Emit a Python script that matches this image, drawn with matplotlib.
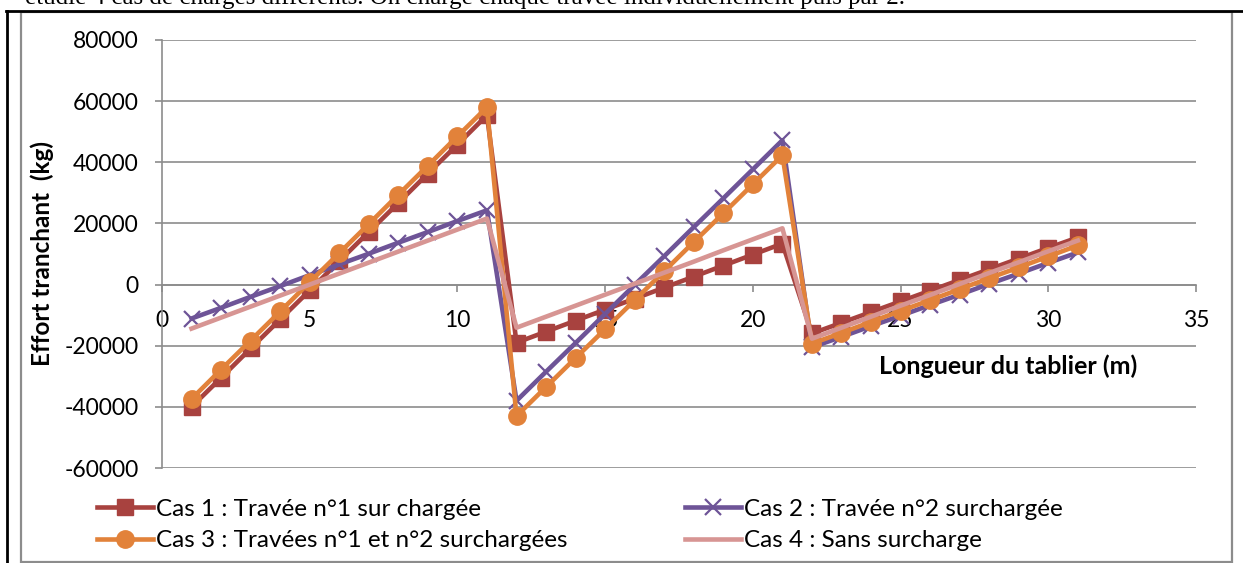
import matplotlib
matplotlib.use("Agg")
import matplotlib.pyplot as plt
from matplotlib.patches import Rectangle
from matplotlib.lines import Line2D

plt.rcParams['font.family'] = ['Lato', 'DejaVu Sans']
plt.rcParams['axes.unicode_minus'] = False

# Longueur du tablier (m)
positions = [1, 2, 3, 4, 5, 6, 7, 8, 9, 10, 11,
             12, 13, 14, 15, 16, 17, 18, 19, 20, 21,
             22, 23, 24, 25, 26, 27, 28, 29, 30, 31]

# Effort tranchant (kg) pour chaque cas de charge
cas1 = [-40000, -30500, -20900, -11400, -1900, 7700, 17200, 26700, 36300, 45800, 55400,
        -19000, -15400, -11800, -8200, -4600, -1000, 2600, 6200, 9800, 13400,
        -16000, -12500, -9000, -5500, -2000, 1500, 5000, 8500, 12000, 15400]
cas2 = [-11100, -7600, -4000, -500, 3100, 6600, 10100, 13700, 17200, 20800, 24300,
        -38000, -28500, -19100, -9600, -100, 9300, 18800, 28200, 37700, 47200,
        -20500, -17100, -13600, -10200, -6700, -3300, 200, 3600, 7100, 10500]
cas3 = [-37400, -27800, -18300, -8800, 800, 10300, 19800, 29400, 38900, 48500, 58000,
        -43000, -33500, -24000, -14600, -5100, 4400, 13900, 23300, 32800, 42300,
        -19300, -15800, -12200, -8600, -5100, -1500, 2100, 5600, 9200, 12800]
cas4 = [-14400, -10800, -7200, -3600, 0, 3600, 7200, 10800, 14400, 18000, 21600,
        -14100, -10500, -6900, -3300, 300, 3900, 7500, 11200, 14800, 18400,
        -17700, -14100, -10500, -6900, -3400, 200, 3800, 7300, 10900, 14400]

labels = ["Cas 1 : Travée n°1 sur chargée",
          "Cas 2 : Travée n°2 surchargée",
          "Cas 3 : Travées n°1 et n°2 surchargées",
          "Cas 4 : Sans surcharge"]
y_ticks = [-60000, -40000, -20000, 0, 20000, 40000, 60000, 80000]
x_ticks = [0, 5, 10, 15, 20, 25, 30, 35]

W, H = 1243, 563
fig = plt.figure(figsize=(W / 100, H / 100), dpi=100)
grey = '#8c8c8c'

# document text cut at the top + page borders
fig.text(25 / W, 1 - 4 / H, "étudié 4 cas de charges différents. On charge chaque travée "
         "individuellement puis par 2.", family='Liberation Serif', fontsize=18,
         va='baseline', ha='left')
fig.add_artist(Line2D([6 / W, 1], [1 - 11 / H, 1 - 11 / H], color='black', lw=2))
fig.add_artist(Line2D([7 / W, 7 / W], [0, 1 - 11 / H], color='black', lw=2))
fig.add_artist(Rectangle((21 / W, 1 / H), (1232 - 21) / W, 1 - 13 / H,
                         fill=False, edgecolor=grey, lw=1.6))

ax = fig.add_axes([162 / W, 1 - 468 / H, 1034 / W, 428 / H])

l1, = ax.plot(positions, cas1, color='#A8423F', lw=3.3, marker='s', ms=11.5, zorder=3)
l2, = ax.plot(positions, cas2, color='#6E5497', lw=3.3, marker='x', ms=11, mew=1.6, zorder=4)
l3, = ax.plot(positions, cas3, color='#E2823A', lw=3.3, marker='o', ms=12.5, zorder=5)
l4, = ax.plot(positions, cas4, color='#D79593', lw=3.3, zorder=6)

ax.set_xlim(0, 35)
ax.set_ylim(-60000, 80000)
ax.set_xticks(x_ticks)
ax.set_yticks(y_ticks)
ax.yaxis.grid(True, color=grey, lw=1.2)
ax.set_axisbelow(True)

for s in ['top', 'right']:
    ax.spines[s].set_visible(False)
ax.spines['bottom'].set_position(('data', 0))
ax.spines['left'].set_color(grey)
ax.spines['bottom'].set_color(grey)
ax.spines['left'].set_linewidth(1.2)
ax.spines['bottom'].set_linewidth(1.2)

ax.tick_params(axis='x', direction='out', length=5, width=1.2, color=grey, pad=13,
               labelsize=16.5)
ax.tick_params(axis='y', direction='out', length=5, width=1.2, color=grey, pad=12,
               labelsize=16.5)

ax.set_xlabel("Longueur du tablier (m)", fontsize=18, fontweight='bold')
ax.xaxis.label.set_va('center')
ax.xaxis.set_label_coords((1008 - 162) / 1034, (468 - 366) / 428)
ax.set_ylabel("Effort tranchant  (kg)", fontsize=17.5, fontweight='bold')
ax.yaxis.label.set_va('center')
ax.yaxis.set_label_coords((42 - 162) / 1034, 0.5)

common = dict(frameon=False, fontsize=17.5, handlelength=2.3, handletextpad=0.12,
              labelspacing=0.42, borderpad=0, borderaxespad=0, loc='center left')
fig.legend([l1, l3], [labels[0], labels[2]], bbox_to_anchor=(97 / W, 1 - 525 / H), **common)
fig.legend([l2, l4], [labels[1], labels[3]], bbox_to_anchor=(685 / W, 1 - 525 / H), **common)

fig.savefig("out.png", dpi=100)
